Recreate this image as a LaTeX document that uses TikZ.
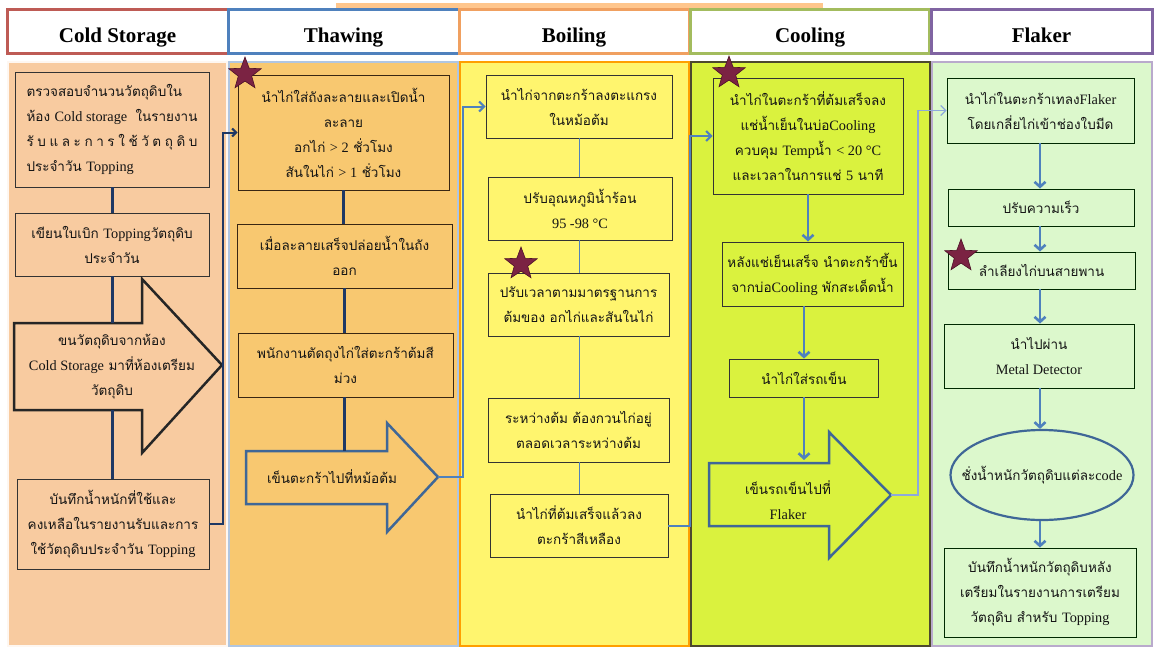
\documentclass[tikz,border=0pt]{standalone}
\usepackage{fontspec}
\setmainfont{Liberation Serif}
\newfontfamily\thaifont[Script=Thai]{Loma}
\usetikzlibrary{shapes.geometric,arrows.meta}
\newcommand{\en}[1]{{\rmfamily\fontsize{14.3}{25}\selectfont #1}}
\definecolor{pcold}{HTML}{F8CBA0}
\definecolor{pthaw}{HTML}{F8C870}
\definecolor{pboil}{HTML}{FFF56E}
\definecolor{pcool}{HTML}{DAF23E}
\definecolor{pflak}{HTML}{DCF8CC}
\definecolor{hcold}{HTML}{BE5B55}
\definecolor{hthaw}{HTML}{4F81BD}
\definecolor{hboil}{HTML}{F0A060}
\definecolor{hcool}{HTML}{A3BC5E}
\definecolor{hflak}{HTML}{8064A2}
\definecolor{navyl}{HTML}{1F3864}
\definecolor{bluel}{HTML}{4F81BD}
\definecolor{lbluel}{HTML}{8EA9DB}
\definecolor{starc}{HTML}{7B2343}
\definecolor{stard}{HTML}{4E1228}
\tikzset{
  txt/.style={font=\thaifont\fontsize{13.5}{25}\selectfont, align=center, inner sep=0pt, text=black!92},
  box/.style={txt, draw=black!80, line width=0.9pt},
  hdr/.style={draw, line width=3pt, fill=white, font=\bfseries\fontsize{21}{24}\selectfont,
    text height=26pt, text depth=4pt, inner sep=0pt},
  panel/.style={line width=2.5pt},
  navyc/.style={draw=navyl, line width=3pt},
  thinc/.style={draw=bluel, line width=0.9pt},
  flowc/.style={draw=bluel, line width=2.6pt, -{Straight Barb[length=5pt,width=11pt,line width=2.6pt]}},
  starn/.style={star, star points=5, star point ratio=2.4, fill=starc, draw=stard, line width=0.6pt,
    minimum size=34pt, inner sep=0pt},
  bigarrow/.style={line width=2.5pt, line join=miter},
}
\begin{document}
\begin{tikzpicture}[x=1pt,y=-1pt]
\useasboundingbox (0,0) rectangle (1156,648);
\fill[white] (0,0) rectangle (1156,648);
\fill[orange!45] (336,3) rectangle (823,10);
% panels
\draw[panel, fill=pcold, draw=white!85!pcold] (8,62) rectangle (227,646);
\draw[panel, fill=pthaw, draw=hthaw!45] (229,62) rectangle (458,646);
\draw[panel, fill=pboil, draw=orange!75!yellow] (460,62) rectangle (689,646);
\draw[panel, fill=pcool, draw=black!60!olive] (691,62) rectangle (930,646);
\draw[panel, fill=pflak, draw=hflak!55] (932,62) rectangle (1152,646);
% headers
\node[hdr, draw=hcold, minimum width=221, minimum height=44] (h1) at (117.5,31) {Cold Storage};
\node[hdr, draw=hthaw, minimum width=231, minimum height=44] (h2) at (343.5,31) {Thawing};
\node[hdr, draw=hboil, minimum width=230, minimum height=44] (h3) at (574,31) {Boiling};
\node[hdr, draw=hcool, minimum width=239, minimum height=44] (h4) at (810,31) {Cooling};
\node[hdr, draw=hflak, minimum width=221, minimum height=44] (h5) at (1041.5,31) {Flaker};

% ---------- Cold storage ----------
\node[box, fill=pcold, minimum width=194, minimum height=115, align=left] (c1) at (112,129.5)
 {\makebox[171pt][s]{ตรวจสอบจำนวนวัตถุดิบใน}\\
  \makebox[171pt][s]{ห้อง \en{Cold storage}\hfill ในรายงาน}\\
  \makebox[171pt][s]{รั\hfill บ\hfill แ\hfill ล\hfill ะ\hfill ก\hfill า\hfill ร\hfill ใ\hfill ช้\hfill วั\hfill ต\hfill ถุ\hfill ดิ\hfill บ}\\
  ประจำวัน \en{Topping}};
\node[box, fill=pcold, minimum width=194, minimum height=63] (c2) at (112,244.5)
 {เขียนใบเบิก \en{Topping}วัตถุดิบ\\ประจำวัน};
\draw[bigarrow, fill=pcold, draw=black!85] (14,323) -- (142,323) -- (142,279) -- (222,365) coordinate (a1tip)
  -- (142,453) -- (142,410) -- (14,410) -- cycle;
\coordinate (a1n) at (112,323);
\coordinate (a1s) at (112,410);
\node[txt] (a1) at (112,367) {ขนวัตถุดิบจากห้อง\\\en{Cold Storage} มาที่ห้องเตรียม\\วัตถุดิบ};
\node[box, fill=pcold, minimum width=192, minimum height=90] (c4) at (113,524)
 {บันทึกน้ำหนักที่ใช้และ\\คงเหลือในรายงานรับและการ\\ใช้วัตถุดิบประจำวัน \en{Topping}};
\draw[navyc] (c1.south) -- (c2.north);
\draw[navyc] (c2.south) -- (a1n);
\draw[navyc] (a1s) -- (a1s |- c4.north);

% ---------- Thawing ----------
\node[box, fill=pthaw, minimum width=211, minimum height=115, draw=black!70!brown] (t1) at (343.5,132.5)
 {นำไก่ใส่ถังละลายและเปิดน้ำ\\ละลาย\\อกไก่ \en{> 2} ชั่วโมง\\สันในไก่ \en{> 1} ชั่วโมง};
\node[box, fill=pthaw, minimum width=215, minimum height=64, draw=black!70!brown] (t2) at (344.5,256)
 {เมื่อละลายเสร็จปล่อยน้ำในถัง\\ออก};
\node[box, fill=pthaw, minimum width=215, minimum height=64, draw=black!70!brown] (t3) at (345.5,365)
 {พนักงานตัดถุงไก่ใส่ตะกร้าต้มสี\\ม่วง};
\draw[bigarrow, fill=pthaw, draw=hthaw!80!black] (246,451) -- (387,451) -- (387,423) -- (438,477) coordinate (a2tip)
  -- (387,532) -- (387,504) -- (246,504) -- cycle;
\coordinate (a2n) at (344,451);
\node[txt] (a2) at (332,477) {เข็นตะกร้าไปที่หม้อต้ม};
\draw[navyc] (t1.south) -- (t1.south |- t2.north);
\draw[navyc] (t2.south) -- (t2.south |- t3.north);
\draw[navyc] (a2n |- t3.south) -- (a2n);
\draw[navyc, line width=2pt, -{Straight Barb[length=4pt,width=8pt,line width=2pt]}] (c4.east) -- ++(14,0) |- (t1.west);

% ---------- Boiling ----------
\node[box, fill=pboil, minimum width=186, minimum height=63] (b1) at (579,106.5)
 {นำไก่จากตะกร้าลงตะแกรง\\ในหม้อต้ม};
\node[box, fill=pboil, minimum width=184, minimum height=63] (b2) at (580,208.5)
 {ปรับอุณหภูมิน้ำร้อน\\\en{95 -98 °C}};
\node[box, fill=pboil, minimum width=181, minimum height=63] (b3) at (578.5,304.5)
 {ปรับเวลาตามมาตรฐานการ\\ต้มของ อกไก่และสันในไก่};
\node[box, fill=pboil, minimum width=181, minimum height=64] (b4) at (578.5,430)
 {ระหว่างต้ม ต้องกวนไก่อยู่\\ตลอดเวลาระหว่างต้ม};
\node[box, fill=pboil, minimum width=178, minimum height=63] (b5) at (579,525.5)
 {นำไก่ที่ต้มเสร็จแล้วลง\\ตะกร้าสีเหลือง};
\draw[thinc] (b1.south) -- (b1.south |- b2.north);
\draw[thinc] (b1.south |- b2.south) -- (b1.south |- b3.north);
\draw[thinc] (b1.south |- b3.south) -- (b1.south |- b4.north);
\draw[thinc] (b1.south |- b4.south) -- (b1.south |- b5.north);
\draw[draw=bluel, line width=2pt, -{Straight Barb[length=5pt,width=10pt,line width=2pt]}] (a2tip) -- ++(25,0) |- (b1.west);

% ---------- Cooling ----------
\node[box, fill=pcool, minimum width=190, minimum height=116] (k1) at (808,136)
 {นำไก่ในตะกร้าที่ต้มเสร็จลง\\แช่น้ำเย็นในบ่อ\en{Cooling}\\ควบคุม \en{Temp}น้ำ \en{< 20 °C}\\และเวลาในการแช่ \en{5} นาที};
\node[box, fill=pcool, minimum width=181, minimum height=64] (k2) at (812.5,274)
 {หลังแช่เย็นเสร็จ นำตะกร้าขึ้น\\จากบ่อ\en{Cooling} พักสะเด็ดน้ำ};
\node[box, fill=pcool, minimum width=149, minimum height=38] (k3) at (804,378)
 {นำไก่ใส่รถเข็น};
\draw[bigarrow, fill=pcool, draw=bluel!80!black] (709,463) -- (829,463) -- (829,432) -- (891,495) coordinate (a3tip)
  -- (829,558) -- (829,526) -- (709,526) -- cycle;
\coordinate (a3n) at (804,460);
\node[txt] (a3) at (788,500) {เข็นรถเข็นไปที่\\\en{Flaker}};
\draw[flowc] (k1.south) -- (k1.south |- k2.north);
\draw[flowc] (k3.north |- k2.south) -- (k3.north);
\draw[flowc] (k3.south) -- (a3n);
\draw[draw=bluel, line width=2pt, -{Straight Barb[length=5pt,width=10pt,line width=2pt]}] (b5.east) -- ++(22,0) |- (k1.west);

% ---------- Flaker ----------
\node[box, fill=pflak, minimum width=187, minimum height=65, draw=black!60!green!40!black] (f1) at (1040.5,110.5)
 {นำไก่ในตะกร้าเทลง\en{Flaker}\\โดยเกลี่ยไก่เข้าช่องใบมีด};
\node[box, fill=pflak, minimum width=186, minimum height=37, draw=black!60!green!40!black] (f2) at (1041,207.5)
 {ปรับความเร็ว};
\node[box, fill=pflak, minimum width=187, minimum height=37, draw=black!60!green!40!black] (f3) at (1041.5,270.5)
 {ลำเลียงไก่บนสายพาน};
\node[box, fill=pflak, minimum width=190, minimum height=64, draw=black!60!green!40!black] (f4) at (1039,356)
 {นำไปผ่าน\\\en{Metal Detector}};
\node[txt, ellipse, draw=bluel!80!black, line width=2.2pt, fill=pflak, minimum width=183, minimum height=90] (f5) at (1042,475)
 {\makebox[0pt]{ชั่งน้ำหนักวัตถุดิบแต่ละ\en{code}}};
\node[box, fill=pflak, minimum width=192, minimum height=89, draw=black!60!green!40!black] (f6) at (1040,592.5)
 {บันทึกน้ำหนักวัตถุดิบหลัง\\เตรียมในรายงานการเตรียม\\วัตถุดิบ สำหรับ \en{Topping}};
\draw[flowc] (f1.south -| 1040,0) -- (f2.north -| 1040,0);
\draw[flowc] (f2.south -| 1040,0) -- (f3.north -| 1040,0);
\draw[flowc] (f3.south -| 1040,0) -- (f4.north -| 1040,0);
\draw[flowc] (f4.south -| 1040,0) -- (f5.north -| 1040,0);
\draw[flowc] (f5.south -| 1040,0) -- (f6.north -| 1040,0);
\draw[draw=lbluel, line width=1.2pt, -{Straight Barb[length=5pt,width=10pt,line width=1.2pt]}] (a3tip) -- ++(27,0) |- (f1.west);

% stars
\node[starn] (s1) at (245,74) {};
\node[starn] (s2) at (521,264) {};
\node[starn] (s3) at (729,73) {};
\node[starn] (s4) at (961,256) {};
\end{tikzpicture}
\end{document}
